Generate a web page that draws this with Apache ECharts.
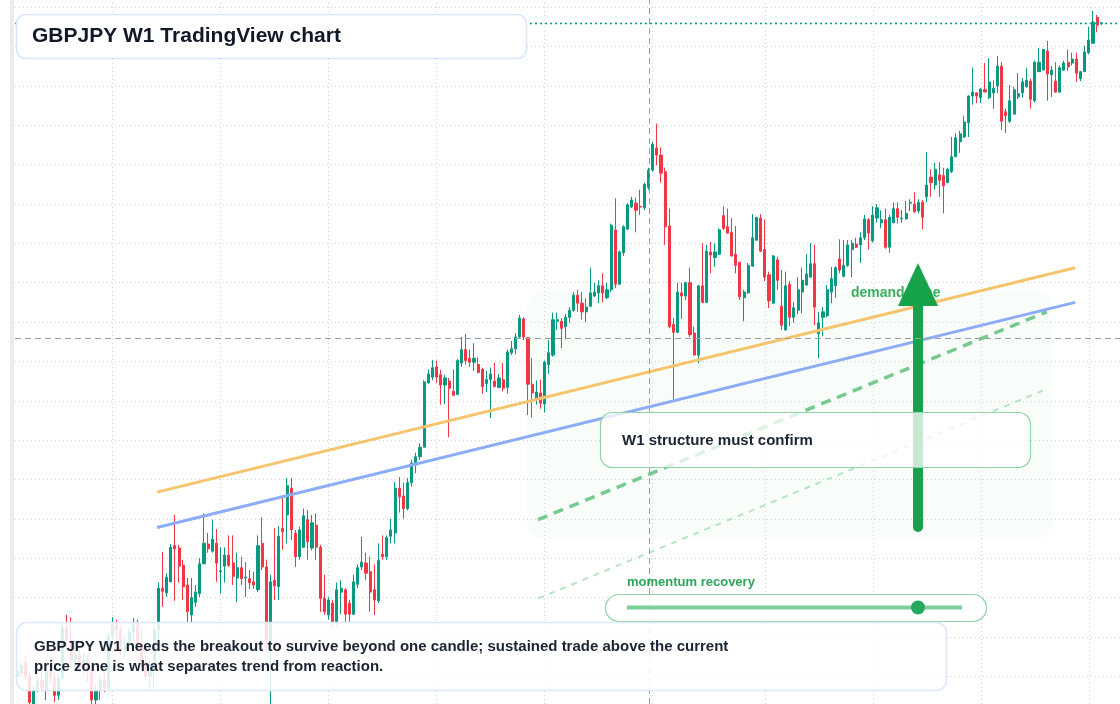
<!DOCTYPE html>
<html>
<head>
<meta charset="utf-8">
<title>GBPJPY W1 TradingView chart</title>
<script src="https://cdn.jsdelivr.net/npm/echarts@6/dist/echarts.min.js"></script>
<style>
  html, body { margin: 0; padding: 0; background: #ffffff; }
  #chart { width: 1120px; height: 704px; }
</style>
</head>
<body>
<div id="chart"></div>
<script>
// weekly candles (oldest first)
const opens = [
  115.0, 115.4, 116.8, 115.0, 111.5, 113.3, 114.5, 113.3, 115.6, 114.8,
  112.6, 114.8, 121.1, 119.6, 117.1, 117.7, 116.1, 117.1, 115.8, 112.0,
  113.3, 114.5, 113.5, 120.1, 121.5, 120.9, 118.3, 119.0, 120.6, 121.9,
  119.0, 116.8, 115.0, 116.4, 120.9, 126.2, 125.6, 127.0, 131.6, 131.3,
  129.1, 126.6, 122.8, 124.4, 125.5, 129.3, 131.8, 130.9, 131.9, 128.3,
  129.0, 130.4, 129.4, 127.5, 128.8, 127.5, 127.4, 127.0, 126.0, 131.9,
  128.9, 119.0, 127.2, 126.4, 133.8, 135.5, 138.9, 133.2, 130.2, 131.4,
  134.9, 131.3, 134.2, 131.4, 124.9, 122.8, 124.3, 121.9, 125.7, 126.0,
  124.3, 122.9, 126.7, 128.9, 129.4, 128.3, 126.0, 124.6, 130.5, 130.2,
  132.8, 133.2, 138.9, 137.9, 136.3, 139.6, 141.8, 142.9, 144.1, 152.3,
  153.0, 154.3, 153.3, 152.0, 152.5, 151.2, 150.8, 154.8, 156.5, 155.4,
  154.9, 154.6, 154.0, 152.2, 152.7, 152.5, 151.7, 152.7, 151.7, 156.1,
  156.6, 158.1, 160.4, 158.0, 152.1, 150.2, 151.0, 149.6, 154.6, 155.8,
  160.1, 160.1, 159.4, 160.6, 161.5, 163.4, 162.4, 161.3, 162.0, 163.3,
  163.7, 164.6, 163.1, 164.1, 171.7, 164.8, 168.8, 171.8, 174.6, 175.1,
  174.7, 174.5, 177.1, 179.3, 182.1, 181.2, 179.1, 172.2, 159.7, 158.7,
  163.7, 163.3, 165.0, 158.6, 155.8, 164.6, 162.5, 168.9, 168.2, 168.6,
  173.5, 172.1, 171.4, 168.6, 167.6, 163.1, 163.7, 167.1, 170.4, 173.2,
  169.2, 166.0, 162.4, 167.9, 162.0, 159.0, 164.8, 160.6, 161.5, 163.8,
  164.7, 165.7, 167.4, 158.5, 160.6, 160.8, 163.8, 164.6, 168.0, 165.8,
  167.2, 169.2, 169.9, 169.8, 170.7, 173.0, 170.3, 173.2, 172.6, 173.0,
  169.5, 172.6, 174.4, 173.1, 173.1, 175.1, 175.0, 174.1, 175.2, 175.9,
  178.4, 177.4, 178.7, 178.6, 177.7, 179.1, 181.0, 182.9, 183.5, 185.3,
  188.7, 189.1, 188.5, 189.5, 188.5, 189.1, 190.0, 192.5, 186.7, 185.5,
  186.4, 188.6, 189.1, 189.9, 190.6, 188.1, 191.8, 192.0, 194.4, 191.4,
  190.6, 189.2, 192.0, 193.0, 192.9, 193.4, 190.9, 191.8, 194.2, 195.4,
  198.7, 197.9
];
const closes = [
  115.6, 116.4, 115.0, 111.7, 113.3, 114.5, 113.5, 115.6, 114.8, 112.6,
  114.8, 121.1, 119.6, 117.1, 117.7, 116.1, 117.1, 115.8, 112.0, 113.3,
  114.5, 113.5, 120.1, 121.5, 120.9, 118.3, 119.0, 120.6, 121.9, 119.0,
  116.8, 115.0, 116.4, 120.9, 126.2, 125.8, 127.6, 131.4, 131.2, 129.0,
  126.4, 123.2, 125.0, 125.7, 129.3, 131.9, 131.2, 132.4, 129.4, 128.4,
  130.4, 129.1, 127.7, 128.8, 127.4, 127.6, 126.9, 126.6, 131.6, 128.9,
  119.6, 127.0, 126.5, 132.8, 133.4, 139.2, 133.6, 130.2, 133.6, 135.4,
  132.1, 134.5, 131.4, 124.9, 123.2, 124.7, 121.9, 126.0, 126.2, 122.9,
  122.9, 127.0, 128.8, 129.5, 128.1, 125.7, 124.7, 129.7, 130.2, 132.6,
  133.6, 138.9, 137.8, 136.3, 139.6, 142.1, 142.9, 144.1, 152.4, 153.4,
  154.2, 153.0, 152.0, 152.9, 151.6, 150.7, 155.1, 156.5, 155.1, 154.9,
  155.4, 153.6, 151.8, 152.7, 153.4, 151.8, 152.9, 151.6, 156.2, 156.6,
  158.1, 160.5, 158.1, 152.1, 151.0, 151.1, 149.7, 154.9, 156.1, 160.3,
  160.3, 159.2, 160.6, 161.5, 163.4, 162.4, 161.3, 161.9, 163.7, 163.8,
  164.6, 163.7, 164.1, 172.3, 164.8, 168.9, 172.1, 174.9, 175.5, 174.2,
  174.6, 177.5, 179.3, 182.6, 181.2, 178.9, 172.1, 159.4, 158.7, 163.8,
  163.3, 165.0, 158.4, 155.8, 164.6, 162.5, 169.0, 168.5, 168.9, 171.7,
  171.9, 171.3, 168.4, 167.2, 163.2, 163.8, 167.2, 170.7, 173.3, 169.0,
  165.7, 162.7, 168.4, 165.3, 159.6, 164.6, 160.6, 161.8, 164.1, 165.3,
  166.1, 167.4, 161.9, 159.9, 161.3, 164.1, 165.5, 166.9, 166.6, 167.2,
  169.8, 170.0, 169.5, 170.7, 173.1, 171.3, 173.6, 174.5, 173.0, 169.5,
  173.3, 174.4, 173.3, 173.2, 173.8, 175.2, 174.0, 175.2, 173.3, 177.4,
  177.7, 179.4, 178.0, 177.3, 179.4, 181.0, 183.4, 183.9, 185.4, 188.7,
  189.2, 188.7, 189.6, 189.2, 190.5, 189.7, 192.5, 185.5, 186.2, 188.1,
  189.5, 189.0, 190.5, 190.7, 188.3, 193.0, 193.0, 194.6, 191.5, 192.0,
  189.2, 192.3, 192.9, 192.4, 193.4, 191.6, 191.8, 194.3, 195.8, 198.1,
  197.7, 198.0
];
const lows = [
  114.8, 114.9, 114.5, 111.2, 111.0, 113.0, 113.3, 112.0, 114.2, 111.7,
  112.0, 114.5, 118.6, 116.1, 116.1, 115.6, 115.2, 114.3, 111.2, 111.0,
  112.0, 113.0, 113.3, 119.6, 119.6, 117.7, 117.3, 118.3, 119.6, 118.3,
  116.1, 114.5, 113.3, 113.5, 119.6, 123.8, 125.1, 127.0, 124.6, 126.9,
  124.7, 121.9, 121.9, 123.8, 125.1, 129.3, 130.7, 130.7, 127.0, 125.5,
  126.9, 128.9, 126.6, 124.4, 126.6, 125.1, 126.1, 126.1, 125.7, 128.5,
  118.1, 111.5, 124.7, 124.7, 131.1, 131.9, 132.3, 128.9, 129.8, 131.3,
  129.8, 131.0, 129.8, 123.2, 122.8, 122.2, 121.3, 121.3, 122.9, 121.9,
  121.9, 122.8, 126.2, 128.5, 127.2, 123.2, 122.8, 124.3, 129.8, 129.8,
  131.9, 131.9, 135.8, 135.0, 136.1, 139.1, 140.8, 142.5, 144.1, 152.1,
  152.6, 152.3, 149.5, 149.6, 145.4, 150.6, 150.7, 154.3, 154.6, 154.3,
  153.8, 153.5, 150.9, 151.1, 147.8, 151.7, 151.6, 151.2, 150.9, 155.8,
  155.9, 158.0, 157.7, 148.2, 147.9, 149.5, 149.0, 148.5, 153.4, 155.6,
  159.0, 156.7, 157.8, 159.9, 161.3, 161.3, 160.3, 160.0, 161.9, 163.2,
  162.4, 162.5, 162.9, 163.8, 164.3, 164.7, 168.4, 171.7, 174.5, 171.4,
  173.6, 174.2, 176.8, 179.1, 179.9, 177.7, 169.8, 159.2, 150.1, 158.6,
  160.4, 162.8, 158.1, 155.8, 154.8, 162.4, 162.4, 166.2, 167.0, 168.5,
  171.7, 171.2, 168.3, 166.2, 162.8, 160.1, 163.6, 167.0, 170.3, 168.9,
  165.2, 161.8, 162.3, 164.1, 159.0, 158.9, 159.5, 159.9, 161.0, 161.1,
  164.6, 165.7, 159.6, 155.4, 158.2, 160.6, 162.4, 163.1, 166.2, 165.7,
  167.0, 165.7, 169.4, 167.5, 170.4, 169.2, 170.1, 172.6, 171.9, 169.3,
  168.8, 172.6, 172.5, 172.6, 173.0, 174.1, 173.8, 173.8, 171.8, 175.2,
  175.9, 176.8, 175.9, 173.8, 177.7, 178.9, 181.0, 181.5, 183.4, 183.5,
  187.6, 187.8, 187.8, 189.2, 188.3, 187.1, 189.1, 184.4, 184.0, 185.3,
  186.4, 188.3, 188.5, 189.7, 187.1, 187.9, 191.8, 192.0, 188.1, 188.6,
  189.1, 189.1, 191.9, 191.9, 192.6, 190.5, 190.6, 191.8, 194.0, 195.4,
  196.8, 197.7
];
const highs = [
  116.1, 116.8, 117.7, 115.6, 113.8, 115.2, 115.8, 116.4, 116.1, 115.6,
  115.4, 121.9, 122.8, 122.5, 119.6, 118.3, 118.0, 117.7, 116.4, 114.0,
  115.0, 115.6, 120.5, 122.5, 122.2, 121.4, 120.1, 121.1, 122.4, 122.2,
  120.9, 117.7, 117.1, 121.5, 126.9, 130.8, 128.1, 131.8, 135.5, 131.7,
  129.8, 127.5, 127.5, 126.6, 130.0, 135.7, 133.2, 134.9, 133.7, 131.4,
  131.4, 132.9, 132.9, 130.7, 130.2, 129.5, 128.5, 128.3, 132.9, 135.2,
  129.8, 127.9, 133.8, 134.1, 137.7, 140.2, 140.2, 133.6, 134.0, 136.3,
  136.1, 135.5, 135.7, 131.7, 127.9, 125.1, 124.7, 126.9, 127.2, 126.2,
  124.7, 127.9, 129.2, 132.7, 130.7, 130.2, 129.2, 131.9, 132.9, 132.9,
  135.0, 139.7, 140.3, 139.6, 140.2, 142.5, 143.4, 144.6, 152.6, 154.0,
  155.2, 155.1, 153.9, 153.3, 152.9, 154.0, 155.3, 158.1, 158.5, 156.5,
  157.3, 155.5, 154.2, 153.8, 154.2, 154.8, 153.4, 154.8, 156.5, 157.6,
  158.6, 160.9, 160.6, 158.1, 155.4, 152.6, 152.7, 155.1, 157.7, 161.2,
  161.2, 160.5, 161.0, 161.9, 163.8, 164.1, 163.8, 163.0, 166.9, 165.0,
  165.3, 166.2, 165.0, 172.5, 175.7, 169.1, 172.3, 175.1, 175.9, 175.8,
  176.8, 177.7, 179.6, 182.9, 185.2, 182.2, 179.6, 174.4, 160.5, 165.0,
  165.0, 165.1, 166.9, 159.4, 164.7, 170.0, 169.8, 170.2, 170.0, 171.9,
  174.7, 174.4, 173.2, 172.2, 167.6, 164.1, 167.5, 173.7, 173.3, 173.7,
  173.0, 166.4, 168.5, 168.3, 166.6, 166.4, 165.2, 162.5, 165.7, 166.9,
  168.6, 170.0, 169.8, 161.3, 161.9, 164.7, 167.0, 167.1, 170.5, 170.4,
  170.4, 170.4, 170.7, 171.4, 173.6, 173.2, 174.7, 175.0, 174.2, 174.4,
  173.6, 175.2, 175.2, 174.2, 175.4, 175.6, 176.5, 175.6, 175.5, 181.6,
  179.4, 180.2, 180.3, 179.6, 179.6, 183.5, 184.0, 184.3, 186.2, 188.8,
  192.3, 189.2, 189.7, 192.9, 193.5, 190.7, 193.8, 193.0, 187.1, 190.1,
  189.9, 191.6, 191.0, 192.3, 190.9, 193.2, 194.8, 194.7, 195.7, 192.5,
  193.0, 192.6, 193.2, 194.6, 194.2, 194.2, 191.9, 195.1, 197.5, 199.5,
  199.0, 198.1
];

// x axis: weekly slots, a few empty ones kept on the right
const TOTAL_WEEKS = 266;
const weeks = [];
for (let i = 0; i < TOTAL_WEEKS; i++) {
  weeks.push(new Date(Date.UTC(2019, 0, 7) + i * 7 * 86400000).toISOString().slice(0, 10));
}

// visible price window and grid levels
const PRICE_MIN = 111.49;
const PRICE_MAX = 200.90;
const gridPrices = [115, 120, 125, 130, 135, 140, 145, 150, 155, 160, 165, 170, 175, 180, 185, 190, 195, 200];

// week indexes where the vertical time grid lines fall
const gridWeeks = [23, 49, 75, 101, 127, 153, 180, 206, 232, 258];

// drawn levels: [week index, price]
const resistanceLine = [[33.7, 138.4], [254.7, 166.9]];
const supportLine = [[33.7, 133.9], [254.7, 162.5]];
const projectionLine = [[125.4, 134.9], [247.9, 161.3]];
const projectionLow = [[125.4, 124.9], [247.9, 151.5]];

const crosshairWeek = 152.2;
const crosshairPrice = 158.0;
const lastPrice = 198.0;

const UP = '#089981';
const DOWN = '#f23645';
const GRID_LINE = { color: '#d4d4d4', width: 1, type: [1, 3] };
const FONT = '"Liberation Sans", Arial, sans-serif';

const candleData = opens.map((o, i) => [o, closes[i], lows[i], highs[i]]);

const chart = echarts.init(document.getElementById('chart'), null, { renderer: 'canvas' });

function trend(data, color, width, type, extra) {
  return Object.assign({
    type: 'line',
    xAxisIndex: 1,
    yAxisIndex: 0,
    data: data,
    symbol: 'none',
    silent: true,
    z: 3,
    lineStyle: { color: color, width: width, type: type }
  }, extra || {});
}

const option = {
  animation: false,
  backgroundColor: '#ffffff',
  grid: { left: 15, right: 0, top: 0, bottom: 0 },
  xAxis: [
    { type: 'category', data: weeks, boundaryGap: true, show: false },
    { type: 'value', min: -0.5, max: TOTAL_WEEKS - 0.5, show: false }
  ],
  yAxis: [{
    type: 'value',
    min: PRICE_MIN,
    max: PRICE_MAX,
    show: false
  }],
  series: [
    {
      type: 'candlestick',
      xAxisIndex: 0,
      yAxisIndex: 0,
      data: candleData,
      barWidth: 2.6,
      z: 2,
      itemStyle: {
        color: UP,
        color0: DOWN,
        borderColor: UP,
        borderColor0: DOWN,
        borderWidth: 1
      }
    },
    trend(projectionLow, '#b5e4c4', 2, [6, 6], {
      markLine: {
        silent: true,
        z: 1,
        symbol: ['none', 'none'],
        label: { show: false },
        lineStyle: GRID_LINE,
        data: gridWeeks.map(w => ({ xAxis: w })).concat(gridPrices.map(p => ({ yAxis: p })))
      }
    }),
    trend(projectionLine, '#74ca90', 3.5, [10, 7]),
    trend(resistanceLine, '#f7c46e', 3, 'solid'),
    trend(supportLine, '#8cadf5', 3, 'solid', {
      markLine: {
        silent: true,
        z: 4,
        symbol: ['none', 'none'],
        label: { show: false },
        data: [
          { xAxis: crosshairWeek, lineStyle: { color: '#9e9e9e', width: 1, type: [6, 4] } },
          { yAxis: crosshairPrice, lineStyle: { color: '#9e9e9e', width: 1, type: [6, 4] } },
          { yAxis: lastPrice, lineStyle: { color: UP, width: 1.3, type: [2, 3] } }
        ]
      }
    })
  ],
  graphic: {
    elements: [
      // left price-scale strip
      { type: 'rect', z: 6, shape: { x: 10, y: 0, width: 4, height: 704 }, style: { fill: '#ebebeb' } },

      // demand zone shading
      { type: 'rect', z: 0, shape: { x: 527, y: 291, width: 525, height: 248, r: 18 },
        style: { fill: 'rgba(34,197,94,0.03)' } },
      { type: 'text', z: 3, x: 851, y: 293,
        style: { text: 'demand zone', font: 'bold 14px ' + FONT, fill: '#3aae60', verticalAlign: 'middle' } },

      // arrow
      { type: 'rect', z: 4, shape: { x: 913, y: 298, width: 10, height: 234, r: 5 }, style: { fill: '#16a34a' } },
      { type: 'polygon', z: 4, shape: { points: [[918, 263], [898, 306], [938, 306]] }, style: { fill: '#16a34a' } },

      // structure box
      { type: 'rect', z: 6, shape: { x: 600.5, y: 412.5, width: 430, height: 55, r: 12 },
        style: { fill: 'rgba(255,255,255,0.76)', stroke: '#90d4a8', lineWidth: 1.2 } },
      { type: 'text', z: 7, x: 622, y: 441,
        style: { text: 'W1 structure must confirm', font: 'bold 15px ' + FONT, fill: '#1b2433', verticalAlign: 'middle' } },

      // momentum slider
      { type: 'text', z: 7, x: 627, y: 582,
        style: { text: 'momentum recovery', font: 'bold 13px ' + FONT, fill: '#2ea65a', verticalAlign: 'middle' } },
      { type: 'rect', z: 6, shape: { x: 605.5, y: 594.5, width: 381, height: 27, r: 13.5 },
        style: { fill: 'rgba(255,255,255,0.9)', stroke: '#90d4a8', lineWidth: 1.2 } },
      { type: 'line', z: 7, shape: { x1: 627, y1: 607.5, x2: 962, y2: 607.5 },
        style: { stroke: '#7ccf98', lineWidth: 4 } },
      { type: 'circle', z: 8, shape: { cx: 918, cy: 607.5, r: 7 }, style: { fill: '#25a85c' } },

      // bottom note
      { type: 'rect', z: 6, shape: { x: 16.5, y: 622.5, width: 930, height: 68, r: 10 },
        style: { fill: 'rgba(255,255,255,0.85)', stroke: '#dbe7fb', lineWidth: 1.5 } },
      { type: 'text', z: 7, x: 34, y: 647,
        style: { text: 'GBPJPY W1 needs the breakout to survive beyond one candle; sustained trade above the current',
                 font: 'bold 15px ' + FONT, fill: '#1b2433', verticalAlign: 'middle' } },
      { type: 'text', z: 7, x: 34, y: 667,
        style: { text: 'price zone is what separates trend from reaction.',
                 font: 'bold 15px ' + FONT, fill: '#1b2433', verticalAlign: 'middle' } },

      // title
      { type: 'rect', z: 6, shape: { x: 16.5, y: 14.5, width: 510, height: 44, r: 9 },
        style: { fill: '#ffffff', stroke: '#d8e5fb', lineWidth: 1.5 } },
      { type: 'text', z: 7, x: 32, y: 36.5,
        style: { text: 'GBPJPY W1 TradingView chart', font: 'bold 21px ' + FONT, fill: '#111827', verticalAlign: 'middle' } }
    ]
  }
};

chart.setOption(option);
</script>
</body>
</html>
